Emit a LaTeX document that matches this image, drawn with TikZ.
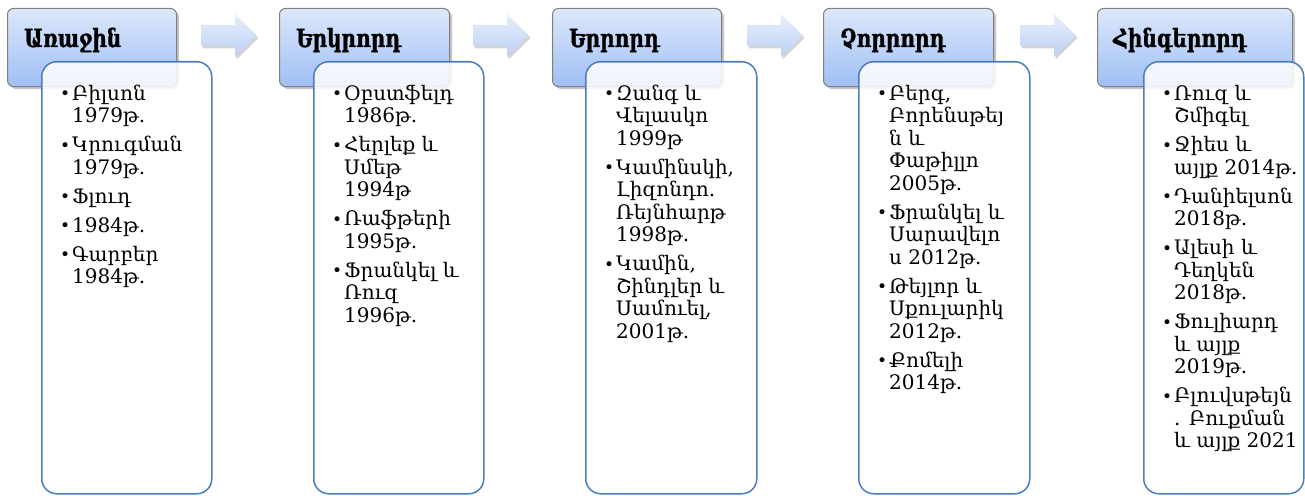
\documentclass[tikz,border=0pt]{standalone}
\usepackage{fontspec}
\setmainfont{DejaVu Serif}
\newfontfamily\hdfont[FakeStretch=0.8, FakeBold=1.2]{DejaVu Serif Bold}
\usetikzlibrary{shadows}
\definecolor{hdtop}{HTML}{DDE8FB}
\definecolor{hdbot}{HTML}{9FBFF4}
\definecolor{hdborder}{HTML}{7F7F7F}
\definecolor{cbord}{HTML}{4A7EBB}
\definecolor{artop}{HTML}{E8EFFC}
\definecolor{arbot}{HTML}{BCD1F6}
\newcommand\cbox[1]{\parbox[t]{170pt}{\fontsize{20}{22.5}\selectfont\setlength\parskip{6.5pt}\setlength\parindent{0pt}#1}}
\newcommand\bi[1]{\par\hangindent=10pt\hangafter=1\strut\hspace*{-2pt}\makebox[12pt][l]{\fontsize{17}{17}\selectfont\raisebox{0.5pt}{•}}#1}
\tikzset{
  header/.style={draw=hdborder, line width=1pt, rounded corners=6pt, top color=hdtop, bottom color=hdbot,
    minimum height=78pt, anchor=north west, inner sep=0pt,
    drop shadow={shadow xshift=2.5pt, shadow yshift=-2.5pt, opacity=0.45}},
  content/.style={draw=cbord, line width=1.5pt, rounded corners=15pt, fill=white, fill opacity=0.85,
    minimum height=432pt, anchor=north west, inner sep=0pt},
  arrowshape/.style={top color=artop, bottom color=arbot,
    drop shadow={shadow xshift=1.5pt, shadow yshift=-2.5pt, opacity=0.35}},
  htext/.style={anchor=base west, inner sep=0pt, font=\hdfont\fontsize{25}{28}\selectfont},
  ctext/.style={anchor=north west, inner sep=0pt}
}
\begin{document}
\begin{tikzpicture}[x=1pt,y=-1pt]
\useasboundingbox (0,0) rectangle (1305,495);
% arrows
\foreach \xa in {201,473,747,1020}{
  \path[arrowshape] (\xa,25) -- (\xa+34,25) -- (\xa+34,14) -- (\xa+56,35.5) -- (\xa+34,57) -- (\xa+34,46) -- (\xa,46) -- cycle;
}
% headers
\node[header, minimum width=169pt] (h1) at (7,8) {};
\node[header, minimum width=170pt] (h2) at (279,8) {};
\node[header, minimum width=169pt] (h3) at (552,8) {};
\node[header, minimum width=170pt] (h4) at (823,8) {};
\node[header, minimum width=195pt] (h5) at (1097,8) {};
\node[htext] (t1) at (24,47) {Առաջին};
\node[htext] (t2) at (296,47) {Երկրորդ};
\node[htext] (t3) at (569,47) {Երրորդ};
\node[htext] (t4) at (840,47) {Չորրորդ};
\node[htext] (t5) at (1113,47) {Հինգերորդ};
% content boxes
\node[content, minimum width=170pt] (c1) at (41,61) {};
\node[content, minimum width=170pt] (c2) at (313,61) {};
\node[content, minimum width=171pt] (c3) at (585,61) {};
\node[content, minimum width=171pt] (c4) at (858,61) {};
\node[content, minimum width=160pt] (c5) at (1143,61) {};
% texts
\node[ctext] (l1) at (62,84.25) {\cbox{%
\bi{Բիլսոն\\1979թ.}
\bi{Կրուգման\\1979թ.}
\bi{Ֆլուդ}
\bi{1984թ.}
\bi{Գարբեր\\1984թ.}}};
\node[ctext] (l2) at (334,84.25) {\cbox{%
\bi{Օբստֆելդ\\1986թ.}
\bi{Հերլեք և\\Սմեթ\\1994թ}
\bi{Ռաֆթերի\\1995թ.}
\bi{Ֆրանկել և\\Ռուզ\\1996թ.}}};
\node[ctext] (l3) at (606,84.25) {\cbox{%
\bi{Զանգ և\\Վելասկո\\1999թ}
\bi{Կամինսկի,\\Լիզոնդո.\\Ռեյնհարթ\\1998թ.}
\bi{Կամին,\\Շինդլեր և\\Սամուել,\\2001թ.}}};
\node[ctext] (l4) at (879,84.25) {\cbox{%
\bi{Բերգ,\\Բորենսթեյ\\ն և\\Փաթիլլո\\2005թ.}
\bi{Ֆրանկել և\\Սարավելո\\ս 2012թ.}
\bi{Թեյլոր և\\Սքուլարիկ\\2012թ.}
\bi{Քոմելի\\2014թ.}}};
\node[ctext] (l5) at (1164,84.25) {\cbox{%
\bi{Ռուզ և\\Շմիգել}
\bi{Ջիես և\\այլք 2014թ.}
\bi{Դանիելսոն\\2018թ.}
\bi{Ալեսի և\\Դեղկեն\\2018թ.}
\bi{Ֆուլիարդ\\և այլք\\2019թ.}
\bi{Բլուվսթեյն\\. Բուքման\\և այլք 2021}}};
\end{tikzpicture}
\end{document}
